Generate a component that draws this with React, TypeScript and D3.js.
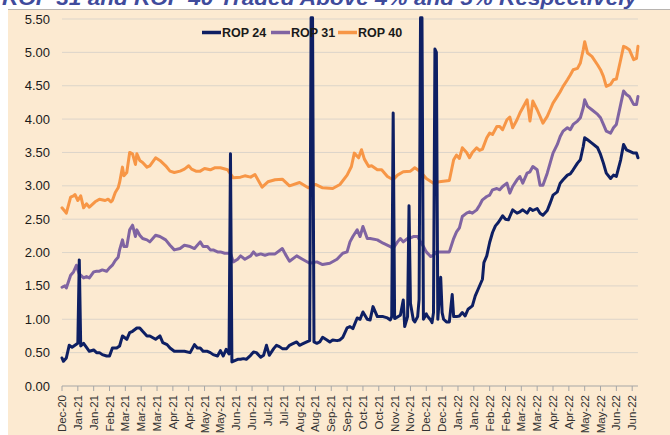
import React from 'react';
import * as d3 from 'd3';

const W = 670;
const H = 435;

const title = 'ROP 31 and ROP 40 Traded Above 4% and 5% Respectively';
const seriesNames = ['ROP 24', 'ROP 31', 'ROP 40'];
const seriesColors = ['#0E1F63', '#8064A2', '#F79646'];

// one label every 11 trading days
const xLabels = [
  'Dec-20', 'Jan-21', 'Jan-21', 'Feb-21', 'Mar-21', 'Mar-21', 'Mar-21', 'Apr-21', 'Apr-21',
  'May-21', 'May-21', 'Jun-21', 'Jun-21', 'Jul-21', 'Jul-21', 'Aug-21', 'Aug-21', 'Sep-21',
  'Sep-21', 'Oct-21', 'Oct-21', 'Nov-21', 'Nov-21', 'Dec-21', 'Dec-21', 'Jan-22', 'Jan-22',
  'Feb-22', 'Feb-22', 'Mar-22', 'Mar-22', 'Apr-22', 'Apr-22', 'May-22', 'May-22', 'Jun-22', 'Jun-22',
];
const labelStep = 11;
const yTicks = [0, 0.5, 1, 1.5, 2, 2.5, 3, 3.5, 4, 4.5, 5, 5.5];

// [trading day, yield]
const rop24: [number, number][] = [
  [0, 0.42], [1, 0.37], [3, 0.42], [5, 0.61], [7, 0.58], [9, 0.61], [11, 0.64], [12, 1.89], [13, 0.6],
  [15, 0.64], [17, 0.58], [19, 0.52], [22, 0.54], [24, 0.5], [26, 0.5], [28, 0.47], [31, 0.45], [33, 0.45],
  [35, 0.57], [38, 0.57], [40, 0.6], [42, 0.75], [45, 0.7], [47, 0.8], [49, 0.82], [52, 0.87], [54, 0.87],
  [56, 0.82], [59, 0.75], [61, 0.75], [65, 0.7], [68, 0.75], [70, 0.65], [73, 0.62], [75, 0.57], [78, 0.52],
  [82, 0.52], [85, 0.52], [89, 0.5], [92, 0.62], [94, 0.57], [96, 0.57], [98, 0.52], [101, 0.52], [103, 0.5],
  [105, 0.47], [108, 0.45], [110, 0.53], [112, 0.45], [114, 0.55], [116, 0.48], [117, 3.48], [118, 0.36],
  [122, 0.4], [124, 0.4], [126, 0.41], [128, 0.4], [131, 0.46], [133, 0.51], [135, 0.5], [138, 0.43],
  [140, 0.46], [142, 0.61], [144, 0.46], [147, 0.56], [149, 0.61], [151, 0.59], [153, 0.56], [156, 0.56],
  [158, 0.61], [160, 0.63], [163, 0.66], [165, 0.61], [167, 0.63], [170, 0.66], [172, 0.68], [173, 5.52],
  [174, 5.52], [175, 0.66], [177, 0.64], [179, 0.66], [181, 0.73], [184, 0.69], [186, 0.66], [188, 0.69],
  [191, 0.68], [193, 0.69], [195, 0.73], [198, 0.87], [200, 0.89], [202, 0.86], [205, 1.02], [207, 1.0],
  [209, 1.11], [212, 1.0], [214, 0.99], [216, 1.19], [219, 1.04], [221, 1.04], [223, 1.04], [226, 1.02],
  [228, 0.99], [229, 1.04], [230, 4.09], [231, 1.01], [235, 1.06], [237, 1.29], [238, 0.89], [240, 1.04],
  [241, 2.7], [242, 1.24], [244, 0.99], [245, 0.96], [247, 1.04], [248, 1.3], [249, 5.52], [250, 5.52],
  [251, 1.0], [253, 1.08], [254, 1.04], [256, 0.99], [257, 0.95], [258, 1.1], [259, 5.05], [260, 5.0],
  [261, 1.0], [263, 1.63], [264, 1.1], [265, 1.0], [267, 0.96], [269, 0.96], [271, 1.37], [272, 1.04],
  [274, 1.04], [276, 1.05], [278, 1.1], [280, 1.05], [282, 1.15], [285, 1.2], [287, 1.35], [289, 1.45],
  [292, 1.6], [293, 1.85], [295, 1.95], [297, 2.15], [299, 2.3], [301, 2.4], [303, 2.45], [306, 2.55],
  [308, 2.5], [310, 2.49], [311, 2.54], [313, 2.64], [316, 2.59], [318, 2.61], [320, 2.64], [323, 2.59],
  [325, 2.66], [327, 2.63], [330, 2.66], [332, 2.59], [334, 2.56], [337, 2.63], [339, 2.74], [341, 2.86],
  [344, 2.91], [346, 3.04], [348, 3.09], [351, 3.16], [353, 3.18], [355, 3.24], [358, 3.34], [360, 3.39],
  [362, 3.59], [363, 3.72], [365, 3.69], [368, 3.64], [372, 3.57], [374, 3.47], [376, 3.34], [378, 3.19],
  [381, 3.11], [383, 3.16], [385, 3.14], [388, 3.39], [390, 3.62], [392, 3.54], [394, 3.52], [397, 3.49],
  [399, 3.49], [400, 3.42],
];

const rop31: [number, number][] = [
  [0, 1.48], [2, 1.5], [3, 1.47], [6, 1.66], [8, 1.71], [10, 1.81], [11, 1.74], [12, 1.68], [15, 1.62],
  [17, 1.64], [19, 1.62], [22, 1.71], [24, 1.72], [26, 1.72], [28, 1.74], [31, 1.72], [33, 1.77], [35, 1.81],
  [37, 1.88], [39, 1.93], [40, 2.04], [42, 2.19], [43, 2.09], [45, 2.09], [47, 2.34], [49, 2.41], [51, 2.24],
  [52, 2.34], [54, 2.26], [56, 2.21], [59, 2.19], [61, 2.16], [65, 2.26], [68, 2.24], [72, 2.19], [75, 2.11],
  [78, 2.04], [82, 2.06], [85, 2.11], [89, 2.09], [92, 2.06], [96, 2.16], [98, 2.09], [101, 2.09], [103, 2.04],
  [105, 2.04], [108, 2.01], [110, 2.01], [113, 1.99], [117, 1.99], [119, 1.86], [122, 1.9], [124, 1.95],
  [127, 1.9], [131, 1.95], [133, 2.01], [135, 1.96], [138, 1.98], [141, 1.96], [144, 1.98], [148, 1.98],
  [153, 2.06], [155, 1.98], [158, 1.87], [163, 1.95], [167, 1.9], [172, 1.84], [177, 1.86], [181, 1.82],
  [186, 1.84], [191, 1.9], [195, 1.99], [198, 2.01], [200, 2.16], [202, 2.24], [205, 2.34], [207, 2.24],
  [209, 2.39], [212, 2.21], [214, 2.21], [219, 2.19], [223, 2.14], [228, 2.09], [230, 2.06], [233, 2.16],
  [235, 2.21], [237, 2.16], [240, 2.21], [242, 2.22], [244, 2.24], [247, 2.24], [249, 2.16], [251, 2.09],
  [253, 2.01], [256, 1.94], [258, 1.96], [260, 2.01], [265, 2.01], [269, 2.01], [272, 2.21], [274, 2.31],
  [276, 2.37], [278, 2.54], [281, 2.59], [283, 2.61], [285, 2.59], [288, 2.64], [290, 2.71], [292, 2.79],
  [295, 2.84], [297, 2.86], [299, 2.94], [302, 2.96], [304, 2.94], [306, 2.99], [309, 3.04], [311, 2.89],
  [313, 2.99], [316, 3.09], [318, 3.14], [320, 3.04], [323, 3.19], [325, 3.21], [327, 3.29], [330, 3.24],
  [332, 3.01], [334, 3.01], [337, 3.19], [339, 3.34], [341, 3.49], [344, 3.62], [346, 3.74], [348, 3.82],
  [351, 3.87], [353, 3.84], [355, 3.92], [358, 3.97], [360, 4.02], [362, 4.17], [363, 4.29], [365, 4.19],
  [368, 4.14], [372, 4.07], [374, 4.02], [376, 3.92], [378, 3.82], [381, 3.79], [383, 3.87], [385, 3.92],
  [388, 4.22], [390, 4.42], [392, 4.37], [394, 4.34], [397, 4.22], [399, 4.22], [400, 4.34],
];

const rop40: [number, number][] = [
  [0, 2.67], [2, 2.62], [3, 2.59], [6, 2.83], [8, 2.85], [9, 2.87], [11, 2.78], [13, 2.85], [15, 2.67],
  [17, 2.73], [19, 2.68], [23, 2.76], [26, 2.8], [30, 2.78], [32, 2.8], [34, 2.76], [35, 2.78], [37, 2.9],
  [39, 2.97], [40, 3.05], [42, 3.28], [43, 3.15], [45, 3.2], [47, 3.5], [49, 3.48], [51, 3.32], [52, 3.48],
  [54, 3.38], [56, 3.35], [59, 3.28], [61, 3.3], [65, 3.42], [68, 3.38], [72, 3.3], [75, 3.22], [78, 3.2],
  [82, 3.22], [85, 3.25], [88, 3.3], [90, 3.25], [93, 3.22], [96, 3.22], [99, 3.26], [103, 3.24], [106, 3.27],
  [110, 3.27], [115, 3.24], [119, 3.12], [124, 3.13], [127, 3.15], [131, 3.13], [134, 3.17], [139, 2.98],
  [143, 3.06], [148, 3.09], [153, 3.1], [158, 3.0], [165, 3.05], [171, 2.97], [176, 3.02], [181, 2.97],
  [188, 2.96], [193, 3.02], [198, 3.16], [201, 3.29], [203, 3.49], [206, 3.42], [208, 3.54], [210, 3.4],
  [213, 3.29], [215, 3.3], [219, 3.24], [222, 3.24], [226, 3.14], [230, 3.09], [233, 3.16], [237, 3.21],
  [242, 3.22], [245, 3.27], [249, 3.21], [253, 3.11], [258, 3.04], [262, 3.06], [269, 3.08], [272, 3.39],
  [274, 3.46], [276, 3.41], [278, 3.57], [281, 3.5], [283, 3.42], [285, 3.5], [288, 3.57], [290, 3.53],
  [292, 3.55], [295, 3.72], [297, 3.79], [299, 3.77], [302, 3.89], [304, 3.89], [306, 3.84], [309, 3.99],
  [311, 4.03], [313, 3.87], [316, 3.99], [318, 4.09], [320, 4.17], [323, 4.29], [325, 3.97], [327, 4.27],
  [330, 4.14], [332, 4.04], [334, 3.94], [337, 4.04], [339, 4.14], [341, 4.24], [344, 4.34], [346, 4.41],
  [348, 4.49], [351, 4.59], [353, 4.66], [355, 4.74], [358, 4.76], [360, 4.84], [362, 5.04], [363, 5.16],
  [365, 4.99], [368, 4.94], [372, 4.81], [374, 4.74], [376, 4.64], [378, 4.49], [381, 4.52], [383, 4.59],
  [385, 4.6], [388, 4.89], [390, 5.09], [392, 5.07], [394, 5.04], [397, 4.89], [399, 4.91], [400, 5.09],
];

const seriesData = [rop24, rop31, rop40];

export default function App() {
  const left = 62;
  const lastLabelX = 632.2;
  const x = d3.scaleLinear().domain([0, (xLabels.length - 1) * labelStep]).range([left, lastLabelX]);
  const y = d3.scaleLinear().domain([0, 5.5]).range([386, 19]);
  const right = x(400);

  const line = d3
    .line<[number, number]>()
    .x(d => x(d[0]))
    .y(d => y(d[1]));

  const fmt = d3.format('.2f');
  const sans = "'Liberation Sans', Arial, sans-serif";
  const narrow = "'Liberation Sans Narrow', 'Arial Narrow', 'Liberation Sans', sans-serif";

  // legend layout (left edge of each sample line)
  const legendX = [202, 271, 338];

  // draw ROP 40 first so the ROP 24 spikes sit on top
  const drawOrder = [2, 1, 0];

  return (
    <svg
      width={W}
      height={H}
      style={{ position: 'absolute', left: 0, top: 0, display: 'block' }}
    >
      <rect x={0} y={0} width={W} height={H} fill="#fff" />
      <text
        x={2}
        y={5}
        fontFamily={sans}
        fontSize={21}
        fontWeight="bold"
        fontStyle="italic"
        fill="#3F4B9C"
        textLength={635}
        lengthAdjust="spacingAndGlyphs"
      >
        {title}
      </text>
      <rect x={8} y={9.5} width={W - 8} height={H - 9.5} fill="#FCEAD1" />
      <line x1={8} x2={W} y1={9.5} y2={9.5} stroke="#B8B4B0" strokeWidth={1} />

      {/* gridlines + y labels */}
      {yTicks.map(t => (
        <g key={t}>
          {t > 0 && (
            <line x1={left} x2={right} y1={y(t)} y2={y(t)} stroke="#DCD5CA" strokeWidth={1} />
          )}
          <text
            x={50}
            y={y(t)}
            dy="0.35em"
            textAnchor="end"
            fontFamily={sans}
            fontSize={13}
            fill="#1a1a1a"
          >
            {fmt(t)}
          </text>
        </g>
      ))}

      {/* x axis */}
      <line x1={left} x2={right} y1={y(0)} y2={y(0)} stroke="#A6A6A6" strokeWidth={1.2} />
      {xLabels.map((lab, i) => {
        const px = x(i * labelStep);
        return (
          <g key={i}>
            <line x1={px} x2={px} y1={y(0)} y2={y(0) + 5} stroke="#A6A6A6" strokeWidth={1} />
            <text
              transform={`translate(${px},${y(0) + 9}) rotate(-90)`}
              dy="0.35em"
              textAnchor="end"
              fontFamily={sans}
              fontSize={11.5}
              fill="#333"
            >
              {lab}
            </text>
          </g>
        );
      })}

      {/* series */}
      {drawOrder.map(i => (
        <path
          key={seriesNames[i]}
          d={line(seriesData[i]) || ''}
          fill="none"
          stroke={seriesColors[i]}
          strokeWidth={3}
          strokeLinejoin="round"
          strokeLinecap="round"
        />
      ))}

      {/* legend */}
      {seriesNames.map((name, i) => (
        <g key={name} transform={`translate(${legendX[i]},32.5)`}>
          <line x1={0} x2={19} y1={0} y2={0} stroke={seriesColors[i]} strokeWidth={3.5} />
          <text x={20} y={4.3} fontFamily={narrow} fontSize={12.5} fontWeight="bold" fill="#1a1a1a">
            {name}
          </text>
        </g>
      ))}
    </svg>
  );
}
